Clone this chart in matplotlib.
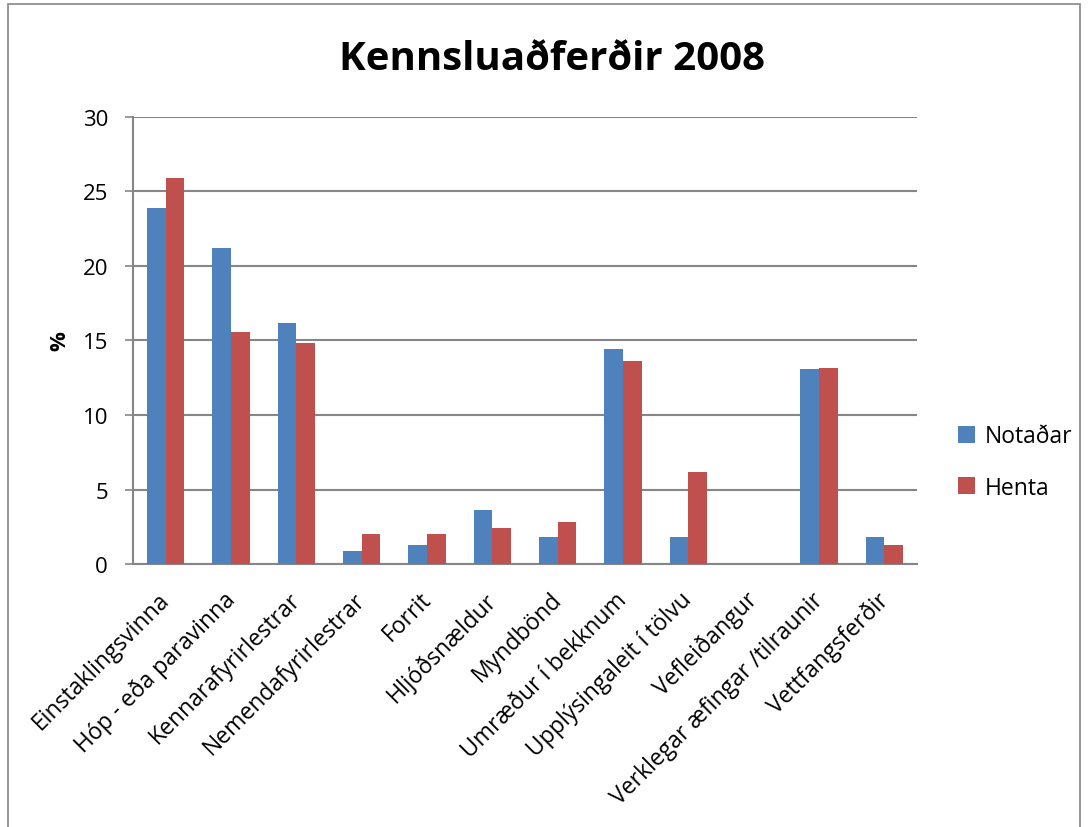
import matplotlib.pyplot as plt
import numpy as np
from matplotlib.patches import Rectangle
from matplotlib.transforms import ScaledTranslation

plt.rcParams['font.family'] = ['Open Sans', 'DejaVu Sans']

categories = ['Einstaklingsvinna', 'Hóp - eða paravinna', 'Kennarafyrirlestrar',
              'Nemendafyrirlestrar', 'Forrit', 'Hljóðsnældur', 'Myndbönd',
              'Umræður í bekknum', 'Upplýsingaleit í tölvu', 'Vefleiðangur',
              'Verklegar æfingar /tilraunir', 'Vettfangsferðir']
notadar = [23.9, 21.2, 16.2, 0.85, 1.3, 3.6, 1.8, 14.4, 1.8, 0, 13.1, 1.8]
henta = [25.9, 15.6, 14.8, 2.0, 2.0, 2.45, 2.85, 13.6, 6.15, 0, 13.15, 1.25]

blue = '#4f81bd'
red = '#c0504d'

fig = plt.figure(figsize=(10.88, 8.28), dpi=100)
ax = fig.add_axes([0.1222, 0.3176, 0.7206, 0.54])

x = np.arange(len(categories))
w = 0.285
ax.bar(x - w/2, notadar, w, color=blue, label='Notaðar', zorder=3)
ax.bar(x + w/2, henta, w, color=red, label='Henta', zorder=3)

ax.set_xlim(-0.5, len(categories) - 0.5)
ax.set_ylim(0, 30)
ax.set_yticks(range(0, 31, 5))
ax.tick_params(axis='y', labelsize=16, length=6, color='#868686', width=1.2, pad=12)
ax.tick_params(axis='x', length=0, pad=6)
ax.set_xticks(x)
ax.set_xticklabels(categories, rotation=45, ha='right', rotation_mode='anchor', fontsize=16.5)
# shift labels slightly down/left like the original
offset = ScaledTranslation(-0.08, -0.15, fig.dpi_scale_trans)
for lbl in ax.get_xticklabels():
    lbl.set_transform(lbl.get_transform() + offset)
ax.grid(True, axis='y', color='#868686', linewidth=1.5, zorder=0)

for s in ['top', 'right']:
    ax.spines[s].set_visible(False)
ax.spines['left'].set_color('#868686')
ax.spines['left'].set_linewidth(1.5)
ax.spines['bottom'].set_color('#868686')
ax.spines['bottom'].set_linewidth(1.5)

ax.set_ylabel('%', fontsize=16, fontweight='bold', labelpad=9)
fig.text(0.507, 0.928, 'Kennsluaðferðir 2008', ha='center', va='center',
         fontsize=29, fontweight='bold')

ax.legend(loc='center left', bbox_to_anchor=(1.026, 0.228), frameon=False,
          fontsize=16.5, handlelength=0.75, handleheight=0.75, labelspacing=1.2,
          handletextpad=0.4)

fig.patches.append(Rectangle((8/1088, -0.01), 1072/1088, 1 - 5/828 + 0.01,
                             transform=fig.transFigure, fill=False,
                             edgecolor='#868686', linewidth=1.2))

fig.savefig('out.png', dpi=100)
